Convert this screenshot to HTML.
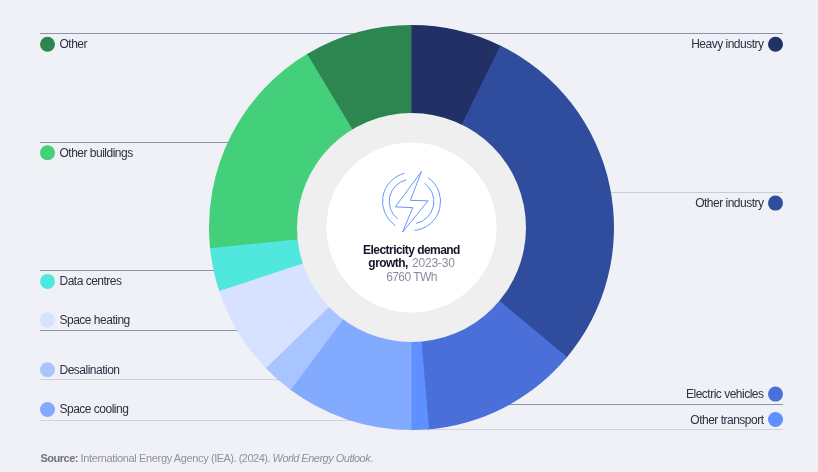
<!DOCTYPE html>
<html><head><meta charset="utf-8"><title>Electricity demand growth</title>
<style>
html,body{margin:0;padding:0;}
body{width:818px;height:472px;background:#f0f1f6;overflow:hidden;position:relative;font-family:"Liberation Sans",sans-serif;}
svg{position:absolute;left:0;top:0;}
.l,.r{position:absolute;font-size:12px;line-height:14px;letter-spacing:-0.5px;color:#2e2e44;white-space:nowrap;}
.l{left:59.5px;}
.r{right:54.5px;text-align:right;}
.c{position:absolute;left:311.5px;width:200px;text-align:center;font-size:12px;line-height:14px;letter-spacing:-0.55px;color:#8c8c9c;white-space:nowrap;}
.c b{color:#16162a;}
.src{position:absolute;left:40.5px;top:452px;font-size:11px;line-height:13px;letter-spacing:-0.5px;color:#90909a;white-space:nowrap;}
.src b{color:#72727c;}
</style></head><body>
<svg width="818" height="472" viewBox="0 0 818 472">
<rect x="40" y="33" width="371" height="1" fill="#8d94ad"/>
<rect x="411" y="33" width="372" height="1" fill="#8d94ad"/>
<rect x="40" y="142" width="371" height="1" fill="#8d94ad"/>
<rect x="411" y="192" width="372" height="1" fill="#c9cdd8"/>
<rect x="40" y="270" width="371" height="1" fill="#8d94ad"/>
<rect x="40" y="330" width="371" height="1" fill="#8d94ad"/>
<rect x="40" y="379" width="371" height="1" fill="#d0d3dc"/>
<rect x="40" y="420" width="371" height="1" fill="#d0d3dc"/>
<rect x="411" y="404" width="372" height="1" fill="#8d94ad"/>
<rect x="411" y="429" width="372" height="1" fill="#d0d3dc"/>
<path d="M409.38 25.01A202.5 202.5 0 0 1 502.17 46.43L462.32 126.01A113.5 113.5 0 0 0 410.31 114.01Z" fill="#213166"/>
<path d="M500.27 45.49A202.5 202.5 0 0 1 565.71 358.74L497.93 301.06A113.5 113.5 0 0 0 461.26 125.49Z" fill="#304c9c"/>
<path d="M567.08 357.12A202.5 202.5 0 0 1 427.04 429.40L420.21 340.67A113.5 113.5 0 0 0 498.70 300.15Z" fill="#4a6fd8"/>
<path d="M429.15 429.23A202.5 202.5 0 0 1 409.38 429.99L410.31 340.99A113.5 113.5 0 0 0 421.39 340.57Z" fill="#5f90ff"/>
<path d="M411.50 430.00A202.5 202.5 0 0 1 289.07 388.80L342.88 317.91A113.5 113.5 0 0 0 411.50 341.00Z" fill="#82aaff"/>
<path d="M290.76 390.07A202.5 202.5 0 0 1 264.37 366.64L329.03 305.48A113.5 113.5 0 0 0 343.83 318.62Z" fill="#a9c5ff"/>
<path d="M265.83 368.17A202.5 202.5 0 0 1 218.59 289.07L303.37 262.01A113.5 113.5 0 0 0 329.85 306.34Z" fill="#d6e2ff"/>
<path d="M219.24 291.08A202.5 202.5 0 0 1 209.87 246.21L298.49 237.98A113.5 113.5 0 0 0 303.74 263.14Z" fill="#50e8dc"/>
<path d="M210.07 248.32A202.5 202.5 0 0 1 309.03 52.84L354.07 129.60A113.5 113.5 0 0 0 298.60 239.17Z" fill="#44cf7a"/>
<path d="M307.20 53.92A202.5 202.5 0 0 1 411.50 25.00L411.50 114.00A113.5 113.5 0 0 0 353.04 130.21Z" fill="#2d8550"/>
<circle cx="411.5" cy="227.5" r="114.5" fill="#efefef"/>
<circle cx="411.5" cy="227.5" r="85.1" fill="#ffffff"/>
<circle cx="47.5" cy="44.2" r="7.5" fill="#2d8550"/>
<circle cx="47.5" cy="152.8" r="7.5" fill="#44cf7a"/>
<circle cx="47.5" cy="281.4" r="7.5" fill="#50e8dc"/>
<circle cx="47.5" cy="320" r="7.5" fill="#d6e2ff"/>
<circle cx="47.5" cy="369.7" r="7.5" fill="#a9c5ff"/>
<circle cx="47.5" cy="409.5" r="7.5" fill="#82aaff"/>
<circle cx="775.5" cy="44.2" r="7.5" fill="#213166"/>
<circle cx="775.5" cy="203.1" r="7.5" fill="#304c9c"/>
<circle cx="775.5" cy="394.1" r="7.5" fill="#4a6fd8"/>
<circle cx="775.5" cy="419.5" r="7.5" fill="#5f90ff"/>
<path d="M395.28 225.54A29.0 29.0 0 0 1 404.48 173.36 M397.77 219.07A22.3 22.3 0 0 1 406.11 179.86 M424.35 183.15A22.4 22.4 0 0 1 416.16 223.41 M428.19 177.66A29.1 29.1 0 0 1 414.54 230.44" fill="none" stroke="#6a96ff" stroke-width="1"/>
<path d="M421.5 171.4L395.3 206.9L412.8 207.7L402.5 232.1L428.1 200.8L410.4 200.4Z" fill="none" stroke="#6a96ff" stroke-width="1" stroke-linejoin="miter"/>
</svg>
<div class="l" style="top:36.7px">Other</div>
<div class="l" style="top:146.3px">Other buildings</div>
<div class="l" style="top:273.9px">Data centres</div>
<div class="l" style="top:312.5px">Space heating</div>
<div class="l" style="top:363.0px">Desalination</div>
<div class="l" style="top:402.0px">Space cooling</div>
<div class="r" style="top:36.7px">Heavy industry</div>
<div class="r" style="top:195.6px">Other industry</div>
<div class="r" style="top:386.6px">Electric vehicles</div>
<div class="r" style="top:413.0px">Other transport</div>
<div class="c" style="top:243px"><b>Electricity demand</b></div>
<div class="c" style="top:256px"><b>growth,</b><span style="letter-spacing:-0.2px;margin-left:1px"> 2023-30</span></div>
<div class="c" style="top:270px">6760 TWh</div>
<div class="src"><b>Source:</b> <span style="letter-spacing:-0.36px">International Energy Agency</span> (IEA). (2024). <i>World Energy Outlook</i>.</div>
</body></html>
